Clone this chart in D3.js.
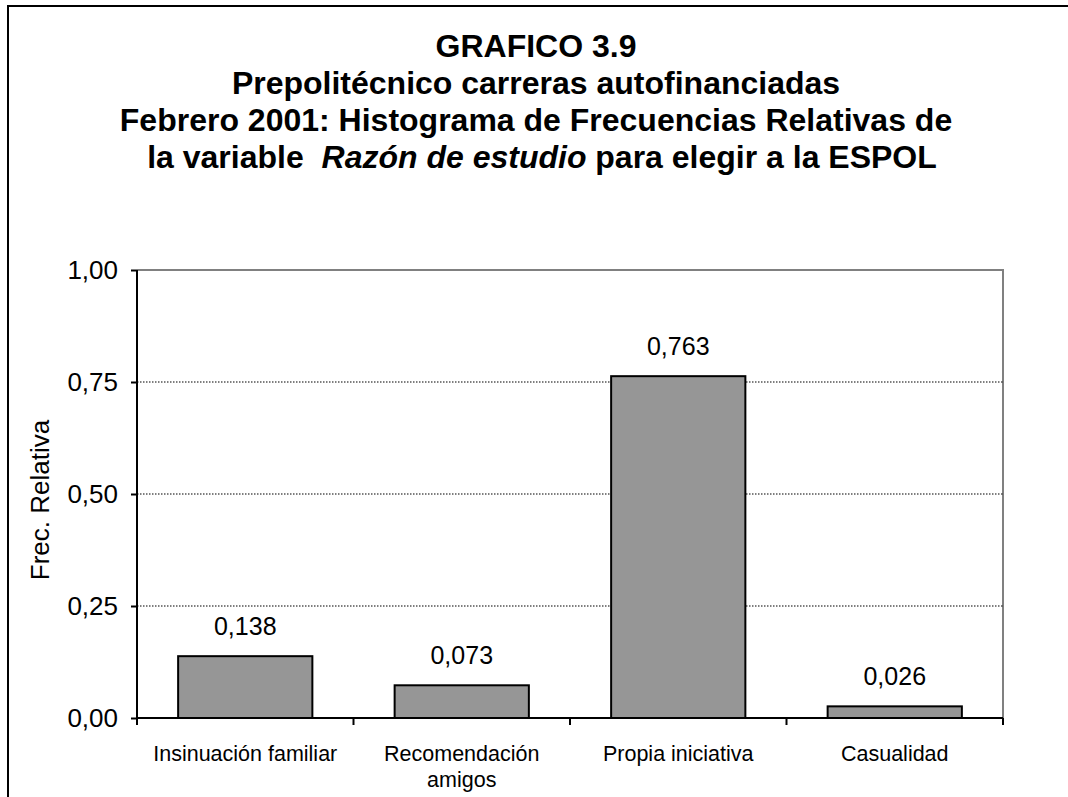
<!DOCTYPE html>
<html>
<head>
<meta charset="utf-8">
<script src="https://cdn.jsdelivr.net/npm/d3@7"></script>
<style>
  html, body { margin: 0; padding: 0; background: #fff; }
  svg { display: block; font-family: "Liberation Sans", Arial, sans-serif; }
</style>
</head>
<body>
<svg id="chart" width="1068" height="797"></svg>
<script>
// ---- data ----
const categories = [["Insinuación familiar"], ["Recomendación", "amigos"], ["Propia iniciativa"], ["Casualidad"]];
const values = [0.138, 0.073, 0.763, 0.026];
const valueLabels = ["0,138", "0,073", "0,763", "0,026"];
const yTicks = [0, 0.25, 0.5, 0.75, 1.0];
const yTickLabels = ["0,00", "0,25", "0,50", "0,75", "1,00"];
const titleLines = ["GRAFICO 3.9", "Prepolitécnico carreras autofinanciadas", "Febrero 2001: Histograma de Frecuencias Relativas de"];
const yAxisTitle = "Frec. Relativa";

// ---- layout ----
const svg = d3.select("#chart");
const pL = 137, pR = 1003, pT = 270, pB = 718;

const x = d3.scaleBand().domain(d3.range(values.length)).range([pL, pR]).padding(0);
const y = d3.scaleLinear().domain([0, 1]).range([pB, pT]);

// outer frame (right and bottom edges off-canvas)
svg.append("rect").attr("x", 8).attr("y", 6).attr("width", 1200).attr("height", 1000)
  .attr("fill", "none").attr("stroke", "#000").attr("stroke-width", 2);

// title
const title = svg.append("text").attr("text-anchor", "middle")
  .attr("font-weight", "bold").attr("font-size", 32).attr("fill", "#000");
titleLines.forEach((t, i) => {
  title.append("tspan").attr("x", 536).attr("y", 57 + i * 37).text(t);
});
const last = title.append("tspan").attr("x", 542).attr("y", 57 + 3 * 37);
last.append("tspan").text("la variable\u00a0\u00a0");
last.append("tspan").attr("font-style", "italic").text("Razón de estudio");
last.append("tspan").text(" para elegir a la ESPOL");

// plot frame top & right (gray)
svg.append("path")
  .attr("d", `M${pL},${pT}H${pR}V${pB}`)
  .attr("fill", "none").attr("stroke", "#808080").attr("stroke-width", 2);

// gridlines
svg.append("g").selectAll("line").data(yTicks.filter(d => d > 0 && d < 1)).join("line")
  .attr("x1", pL).attr("x2", pR)
  .attr("y1", d => y(d)).attr("y2", d => y(d))
  .attr("stroke", "#000").attr("stroke-width", 1.2).attr("stroke-dasharray", "1.5,1.5");

// bars
const bw = x.bandwidth() * 0.62;
svg.append("g").selectAll("rect").data(values).join("rect")
  .attr("x", (d, i) => x(i) + (x.bandwidth() - bw) / 2)
  .attr("width", bw)
  .attr("y", d => y(d))
  .attr("height", d => y(0) - y(d))
  .attr("fill", "#969696").attr("stroke", "#000").attr("stroke-width", 2);

// value labels
svg.append("g").selectAll("text").data(values).join("text")
  .attr("x", (d, i) => x(i) + x.bandwidth() / 2)
  .attr("y", d => y(d) - 21)
  .attr("text-anchor", "middle").attr("font-size", 25).attr("fill", "#000")
  .text((d, i) => valueLabels[i]);

// y axis
const yAxis = d3.axisLeft(y).tickValues(yTicks).tickFormat((d, i) => yTickLabels[i]).tickSize(6).tickPadding(13);
const gy = svg.append("g").attr("transform", `translate(${pL},0)`).call(yAxis);
gy.select(".domain").attr("stroke", "#000").attr("stroke-width", 2).attr("d", `M0,${pT}V${pB}`);
gy.selectAll(".tick line").attr("stroke", "#000").attr("stroke-width", 2);
gy.selectAll(".tick text").attr("font-size", 26).attr("fill", "#000").attr("font-family", "Liberation Sans, Arial, sans-serif");

// x axis
const xAxis = d3.axisBottom(x).tickSize(0).tickFormat("");
const gx = svg.append("g").attr("transform", `translate(0,${pB})`).call(xAxis);
gx.select(".domain").attr("stroke", "#000").attr("stroke-width", 2).attr("d", `M${pL},0H${pR}`);
gx.selectAll(".tick").remove();
// category boundary ticks
const bounds = d3.range(values.length + 1).map(i => i < values.length ? x(i) : pR);
gx.selectAll("line.bt").data(bounds).join("line").attr("class", "bt")
  .attr("x1", d => d).attr("x2", d => d).attr("y1", 0).attr("y2", 7)
  .attr("stroke", "#000").attr("stroke-width", 2);
// category labels
const cl = svg.append("g").selectAll("text").data(categories).join("text")
  .attr("text-anchor", "middle").attr("font-size", 21.5).attr("fill", "#000");
cl.each(function(lines, i) {
  const t = d3.select(this);
  lines.forEach((s, j) => {
    t.append("tspan").attr("x", x(i) + x.bandwidth() / 2).attr("y", 761 + j * 26).text(s);
  });
});

// y axis title
svg.append("text")
  .attr("transform", `translate(49,${(pT + pB) / 2 + 6}) rotate(-90)`)
  .attr("text-anchor", "middle").attr("font-size", 26).attr("fill", "#000")
  .text(yAxisTitle);
</script>
</body>
</html>
